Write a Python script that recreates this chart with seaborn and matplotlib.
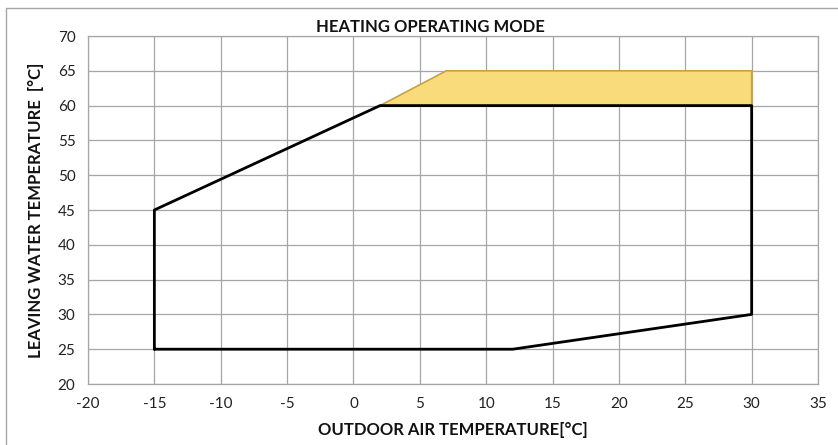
import numpy as np
import matplotlib
matplotlib.use('Agg')
import matplotlib.pyplot as plt
import seaborn as sns
from matplotlib.lines import Line2D

# operating envelope (outdoor air temp, leaving water temp)
env_x = [-15, -15, 2, 30, 30, 12, -15]
env_y = [25, 45, 60, 60, 30, 25, 25]

# extended high-temperature zone
ext_x = [2, 7, 30, 30, 2]
ext_y = [60, 65, 65, 60, 60]

x_ticks = list(range(-20, 36, 5))
y_ticks = list(range(20, 71, 5))

sns.set_style('white')
plt.rcParams['font.family'] = ['Lato', 'DejaVu Sans']
plt.rcParams['axes.unicode_minus'] = False

fig = plt.figure(figsize=(8.38, 4.45), dpi=100)
ax = fig.add_axes([88 / 838, 1 - 384 / 445, 730 / 838, 348 / 445])

ax.fill(ext_x, ext_y, facecolor='#FADB7C', edgecolor='#C9A23C', linewidth=1.2, zorder=2)
sns.lineplot(x=env_x, y=env_y, sort=False, estimator=None, color='black',
             linewidth=2, ax=ax, zorder=3)

ax.set_xlim(-20, 35)
ax.set_ylim(20, 70)
ax.set_xticks(x_ticks)
ax.set_yticks(y_ticks)
ax.grid(True, color='#A6A6A6', linewidth=0.9)
ax.set_axisbelow(True)
for s in ax.spines.values():
    s.set_color('#A6A6A6')
    s.set_linewidth(0.9)
ax.tick_params(axis='both', length=0, labelsize=11, pad=9, colors='#222222')

ax.set_xlabel('OUTDOOR AIR TEMPERATURE[°C]', fontsize=12, fontweight='bold', labelpad=8, color='#111111')
ax.set_ylabel('LEAVING WATER TEMPERATURE  [°C]', fontsize=12, fontweight='bold', labelpad=10, color='#111111')
fig.text(430 / 838, 1 - 27 / 445, 'HEATING OPERATING MODE', fontsize=12, fontweight='bold',
         ha='center', va='center', color='#111111')

# outer chart frame (left and top edges visible)
fig.add_artist(Line2D([6 / 838, 6 / 838], [0, 1 - 8 / 445], color='#A6A6A6', linewidth=1))
fig.add_artist(Line2D([6 / 838, 1], [1 - 8 / 445, 1 - 8 / 445], color='#A6A6A6', linewidth=1))

fig.savefig('out.png', dpi=100)
